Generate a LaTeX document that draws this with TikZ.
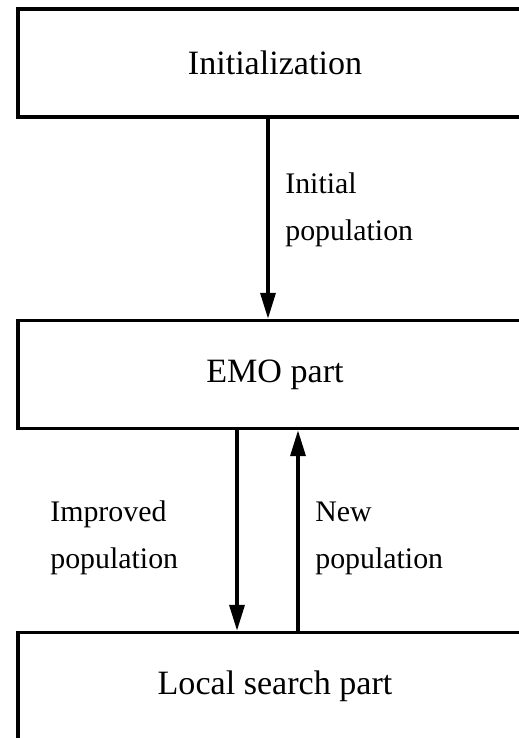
\documentclass[tikz,border=0pt]{standalone}
\usepackage{fontspec}
\setmainfont{Liberation Serif}
\usetikzlibrary{arrows.meta}

\begin{document}
\begin{tikzpicture}[x=0.02cm, y=-0.02cm, >={Triangle[length=0.52cm,width=0.3cm]},
    block/.style={draw, line width=2pt, minimum width=10.28cm, minimum height=2.16cm,
                  font=\fontsize{19.4pt}{23pt}\selectfont},
    flow/.style={->, line width=2pt},
    lbl/.style={align=left, inner sep=0pt, anchor=base west,
                font=\fontsize{17pt}{26.7pt}\selectfont}]
    \useasboundingbox (0,0) rectangle (519,738);
    \clip (0,0) rectangle (519,738);

    % Nodes {init, emo, local}
    \node [block]   (init)   at (275,63)    {Initialization};
    \node [block]   (emo)    at (275,374.5) {EMO part};
    \node [block]   (local)  at (275,686.5) {Local search part};

    % Labels (base = last line)
    \node [lbl]     (initpop) at (285,240)  {Initial\\population};
    \node [lbl]     (imppop)  at (50,568)   {Improved\\population};
    \node [lbl]     (newpop)  at (315,568)  {New\\population};

    % Paths
    \draw [flow] ([xshift=-0.14cm]init.south) -- ([xshift=-0.14cm]emo.north);
    \draw [flow] ([xshift=-0.76cm]emo.south)  -- ([xshift=-0.76cm]local.north);
    \draw [flow] ([xshift=0.46cm]local.north) -- ([xshift=0.46cm]emo.south);

\end{tikzpicture}
\end{document}
